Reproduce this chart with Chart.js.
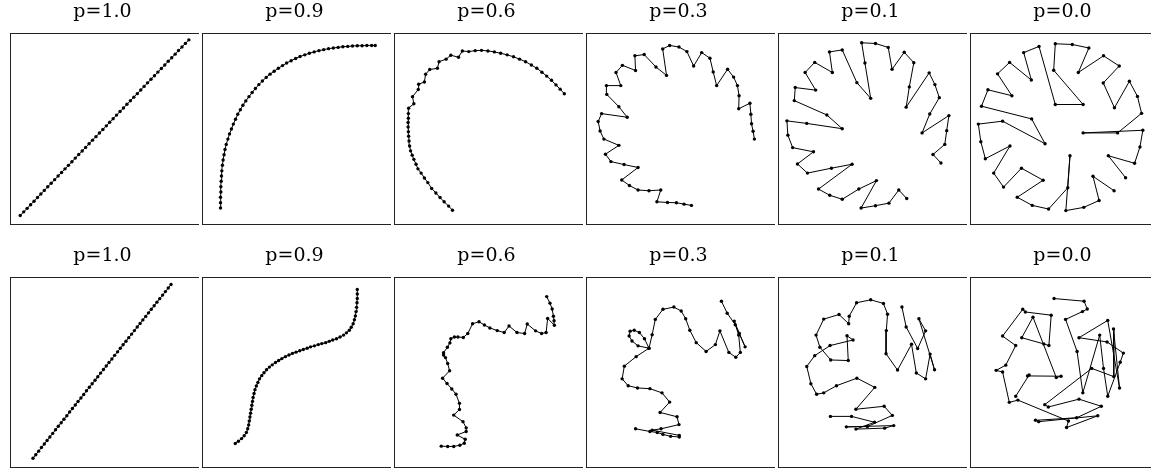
<!DOCTYPE html>
<html>
<head>
<meta charset="utf-8">
<script src="https://cdn.jsdelivr.net/npm/chart.js@4.4.1/dist/chart.umd.min.js"></script>
<style>
  html, body { margin: 0; padding: 0; background: #fff; overflow: hidden; }
  body { width: 1151px; height: 472px; position: relative; }
  .panel { position: absolute; }
</style>
</head>
<body>
<div id="wrap"></div>
<script>
// panel titles (same for both rows)
const titles = ['p=1.0', 'p=0.9', 'p=0.6', 'p=0.3', 'p=0.1', 'p=0.0'];

// ---- top row, coordinates inside each box (px from the box's top-left corner)
const t10x = [10.7,14.3,17.9,21.5,25.1,28.7,32.2,35.8,39.4,43.0,46.6,50.2,53.8,57.4,61.0,64.6,68.1,71.7,75.3,78.9,82.5,86.1,89.7,93.3,96.9,100.5,104.0,107.6,111.2,114.8,118.4,122.0,125.6,129.2,132.8,136.4,139.9,143.5,147.1,150.7,154.3,157.9,161.5,165.1,168.7,172.3,175.8,179.4,183.0,186.6];
const t10y = [186.3,182.6,179.0,175.3,171.7,168.0,164.3,160.7,157.0,153.4,149.7,146.0,142.4,138.7,135.1,131.4,127.7,124.1,120.4,116.8,113.1,109.4,105.8,102.1,98.5,94.8,91.1,87.5,83.8,80.2,76.5,72.8,69.2,65.5,61.9,58.2,54.5,50.9,47.2,43.6,39.9,36.2,32.6,28.9,25.3,21.6,17.9,14.3,10.6,7.0];

const t09x = [19.3,19.3,19.3,19.7,19.7,20,20.3,20.7,21.3,22,23,24,25.3,27,28.7,30.7,32.7,35,37.3,40,42.7,45.7,49,52.3,55.7,59.3,63,67,71,75.3,79.7,84,88.3,93,97.7,102.3,107.3,112,117,122,127,132,137,142,147,152,157,162,167,172,177,180.7];
const t09y = [178.7,173.3,167.7,162.3,157,151.3,146,140.7,135,129.7,124.3,119,113.7,108.3,103,98,93,88,83,78.3,73.7,69.3,65,60.7,56.7,52.7,49,45.3,42,39,36,33.3,30.7,28.3,26,24,22.3,20.7,19.3,18,17,16,15.3,14.7,14,13.7,13.3,13,13,12.7,12.7,12.7];

const t06x = [61,57,52.3,48,43.7,39.3,35.3,31.7,28.3,25,23,20.7,19,17.3,16.3,15.7,15.3,15,14.7,14.7,15,15,15.3,20.7,19.3,25.3,25.7,31.7,33,37.3,45.3,47,54.3,59.3,67.3,71.3,78,84.7,91.3,98,104.7,111.3,118,124.7,131,137.3,143.3,149,154.3,159.3,164.3,169,173.3,177.7];
const t06y = [181,176.7,172.3,168,163.3,158.7,152.7,148,143,138.7,134,129,124.7,120.3,115.3,110.3,105.3,100.7,96,91.3,87,82.3,76.7,72.3,65,57.7,52.3,50,42,37.3,36,29.3,26.7,22.7,24.7,18.3,19,18,17.7,18.3,19.3,20.7,22.3,24.3,26.7,29.3,32.7,36,40,44,48.3,53,57.3,62];

const t03x = [110,102.3,94.3,85,74,78,65.7,54.3,45.3,37.3,54.3,39.7,26,20.3,34.3,18.7,14.7,12.7,16.3,43,34.3,21.7,21.3,36.3,31.3,38,51.7,51,60.7,73,84,80,87.3,97,105.3,112.3,120.7,129.3,132.7,136.3,147.7,154,158,159.7,159.3,171,172,172.7,174.3,175.7];
const t03y = [176,174.7,173.3,173,172.3,160.3,161,160.3,155.7,150,137.3,134.3,131.3,123.7,114.7,108.3,100,90.3,82.3,86,75.3,62.7,53.7,53.7,40.3,33,38.3,23.3,22,34.7,43.3,16.3,12.7,14.3,19,33.7,20,25.7,39.7,53.7,37,45,53.7,64,77.3,71.7,83,92.7,100.3,108.3];

const t01x = [170,161.7,174,176,178.3,150.3,158.3,168.3,163.7,157.7,133.7,137,141.7,131.7,119,115,101.7,87.3,90.7,96.7,82.3,67,53.7,56.7,38.3,28.3,39.3,18,17,51,67,30,9.3,10.3,15.3,37,20.3,30.7,55.7,77.3,42.3,54,67,84.3,102.7,86.7,101.7,115.7,126,134.3];
const t01y = [132.7,124,113.7,99.7,84.3,102,82.7,66,52.7,40.7,75.7,55,30.3,19.7,37,14.7,10.7,10,30.7,66.7,50.7,17.3,19.3,40.3,30,40.3,58.3,55.7,69,83.7,97.7,92.3,89.7,104.3,117,121.3,133.7,143,138,134,159.3,165.7,169.7,159.3,150.7,178.7,176.3,173.7,160.3,169];

const t00x = [162.3,144.3,171.7,177.3,180.3,118,154,179,174.7,166.3,150.7,139,155.7,139.3,113,124,106.7,89,87.3,118,89,72,56,64,41.3,28.7,43.7,18.7,12,64.3,78.3,34,8.7,11.3,16,41.7,24.7,35,53.7,76.3,49.3,65,82,102,104.3,100,118.7,134.7,128.3,150.3];
const t00y = [147.7,125.3,133,116.3,99.3,102,102,82,64.7,49.3,76.3,51,33.7,23.3,40.3,15.3,11.7,11,38,73,73,13.7,20,48,30,41.7,64,58,74.7,87.7,113,90,93,111,128.3,115.3,143,157.3,138,150.3,167.7,176,179.7,158,125.3,181.3,178,171,146.3,161];

// ---- bottom row
const b10x = [24.0,26.9,29.9,32.8,35.8,38.7,41.6,44.6,47.5,50.4,53.4,56.3,59.3,62.2,65.1,68.1,71.0,74.0,76.9,79.8,82.8,85.7,88.7,91.6,94.5,97.5,100.4,103.3,106.3,109.2,112.2,115.1,118.0,121.0,123.9,126.9,129.8,132.7,135.7,138.6,141.6,144.5,147.4,150.4,153.3,156.2,159.2,162.1,165.1,168.0];
const b10y = [185.0,181.4,177.8,174.1,170.5,166.9,163.3,159.7,156.0,152.4,148.8,145.2,141.6,137.9,134.3,130.7,127.1,123.5,119.9,116.2,112.6,109.0,105.4,101.8,98.1,94.5,90.9,87.3,83.7,80.0,76.4,72.8,69.2,65.6,61.9,58.3,54.7,51.1,47.5,43.8,40.2,36.6,33.0,29.4,25.7,22.1,18.5,14.9,11.3,7.7];

const b09x = [34.7,38,41.3,44,46.3,47.7,48.7,49.3,50,50.7,51.3,52,52.7,53.3,54.3,55.3,56.7,58.3,60,62.3,64.7,67.3,70.3,73.3,76.7,80,83.3,87,90.7,94.3,98,102,105.7,109.7,113.3,117.3,121.3,125,129,132.7,136.3,140.3,144,147.7,150.7,153.7,155.7,157.7,159,160,160.7,161.3,161.7,162,162,162];
const b09y = [170,167.7,165,162,158.7,155,151,147,143,139,135,131,127,123,119,115,111.3,107.7,104,100.7,97.7,94.7,92,89.7,87.3,85.3,83.3,81.3,79.7,78,76.7,75.3,74,72.7,71.3,70.3,69,68,67,65.7,64.3,63,61.3,59.3,57,54.3,51.3,47.7,43.7,39.7,35.3,31,26.3,22,17.3,12.7];

const b06x = [49.3,56,62.3,68.7,73.3,74.3,66,75.3,75.3,72,62.3,68.3,68.3,64.7,60.3,55.3,50.7,58,56,53.7,51.7,51.7,55.7,58.3,59.3,63,66.7,72.3,77,82,88.7,94.3,100,107.7,115,120,128.3,136.3,139,147.7,154,158.7,160.3,167.3,167,166.3,165,162.7,159.3];
const b06y = [172.7,173,173,171.7,169.7,165.7,161.3,157.7,154,147.7,141,135.3,129,119.7,114.3,108.7,103.3,95.7,88.3,82.3,79.7,77.3,71.7,67.3,63,61.3,61.3,61.7,57.7,47.7,45.7,49,52,54.7,56.7,50,56.7,57.7,48,55,57.7,56.7,42.3,49.3,44.7,40,32.7,26.7,20];

const b03x = [51.7,66.7,74.3,80.3,88.3,97.3,97.3,69,78.3,97,95,77.3,87.3,79.3,66.7,53.7,44,37.7,40,52.3,65.7,54.3,48,45,46,50.3,55.7,61,65.7,69,72.3,80.3,91.7,99.3,104,108.3,115,125.3,135,139.7,149,156.3,161,159.3,154.7,160,166,155.7,147.3,141.3];
const b03y = [155,157.7,158.7,160.7,162.7,163.3,161.7,156.3,155,150.7,142.7,138.3,127.7,118.3,114,113.3,111,104,91,81.3,72.7,70.3,65.3,60.3,55.3,54.3,56.7,63,72.7,59,43.3,33,30.7,34.7,42.7,54.3,67,76,69,55,77,82,77,59.3,45,57.7,71.3,48.7,37,24.7];

const b01x = [54.7,76.7,100.7,81.3,111.3,120.7,71.3,93.3,119.3,110.7,81.3,101,82.3,61,47.7,40.3,34.3,30,38.3,54.3,78.3,72,73.3,55,43.7,39.7,47.7,63.7,73.7,74.3,82,96.7,110,114.3,113,112.7,124.7,139.3,144.3,154,158.7,163.3,147,154,145.7,133.7,129.3];
const b01y = [142.3,142.3,148.3,155.3,154.3,151.7,153,152.7,141.3,132,135,112.7,103.3,111,118.3,119.7,109,91.3,80.3,70,64.3,60,85.3,84.7,71.7,59.3,43,38.3,47.7,40,26.3,23.3,27,38,54.7,78.3,95,68.7,98,104,78.7,94.7,42.7,55,73,51,30.7];

const b00x = [87.7,119,122.3,117.3,99.7,111.7,117.7,135.3,139.3,143.7,156.7,160,143,113.7,143.7,156,149.7,150,127,78,81.7,113.7,137,111.3,68.3,71.7,133.3,100.7,102.7,50,41,34,27.3,37.3,47.7,34,55,57.7,84.7,82.3,77,54,65.7,90,95,60,61.7,47.7];
const b00y = [22,24.7,32.7,35.3,43.3,76,118.3,59.3,93.3,121.7,87,77.7,66.3,62,44.3,113.3,53,101.7,93.3,130.3,132.7,124.7,132,143.7,146.3,147.7,141.7,153.7,147,125.7,128,97,95.3,90,70,60.3,33,35.7,39,70,68.3,62,41,102.7,101.3,101,100,121.7];

const topRow = [[t10x, t10y], [t09x, t09y], [t06x, t06y], [t03x, t03y], [t01x, t01y], [t00x, t00y]];
const bottomRow = [[b10x, b10y], [b09x, b09y], [b06x, b06y], [b03x, b03y], [b01x, b01y], [b00x, b00y]];

// box outline around the chart area
const boxPlugin = {
  id: 'box',
  afterDraw(chart) {
    const a = chart.chartArea, c = chart.ctx;
    c.save();
    c.strokeStyle = '#222';
    c.lineWidth = 1;
    c.strokeRect(a.left + 0.5, a.top + 0.5, 192, a.bottom - a.top - 1);
    c.restore();
  }
};

function makePanel(left, top, boxH, title, xs, ys) {
  const cv = document.createElement('canvas');
  cv.className = 'panel';
  cv.style.left = left + 'px';
  cv.style.top = top + 'px';
  cv.style.width = '193px';
  cv.style.height = (33 + boxH) + 'px';
  cv.width = 193;
  cv.height = 33 + boxH;
  document.getElementById('wrap').appendChild(cv);

  new Chart(cv.getContext('2d'), {
    type: 'scatter',
    data: {
      datasets: [{
        data: xs.map((x, i) => ({ x: x, y: ys[i] })),
        showLine: true,
        borderColor: '#000',
        borderWidth: 1,
        pointRadius: 1.7,
        pointBackgroundColor: '#000',
        pointBorderWidth: 0,
        clip: false
      }]
    },
    options: {
      responsive: false,
      animation: false,
      layout: { padding: 0 },
      scales: {
        x: { type: 'linear', display: false, min: 0, max: 193 },
        y: { type: 'linear', display: false, min: 0, max: boxH, reverse: true }
      },
      plugins: {
        legend: { display: false },
        tooltip: { enabled: false },
        title: {
          display: true,
          text: title,
          color: '#000',
          font: { family: 'DejaVu Serif', size: 19, weight: 'normal', lineHeight: 1.2 },
          padding: { top: 1, bottom: 9.2 }
        }
      }
    },
    plugins: [boxPlugin]
  });
}

const lefts = [6, 198, 390, 582, 774, 966];
topRow.forEach((d, i) => makePanel(lefts[i], 0, 196, titles[i], d[0], d[1]));
bottomRow.forEach((d, i) => makePanel(lefts[i], 244, 195, titles[i], d[0], d[1]));
</script>
</body>
</html>
